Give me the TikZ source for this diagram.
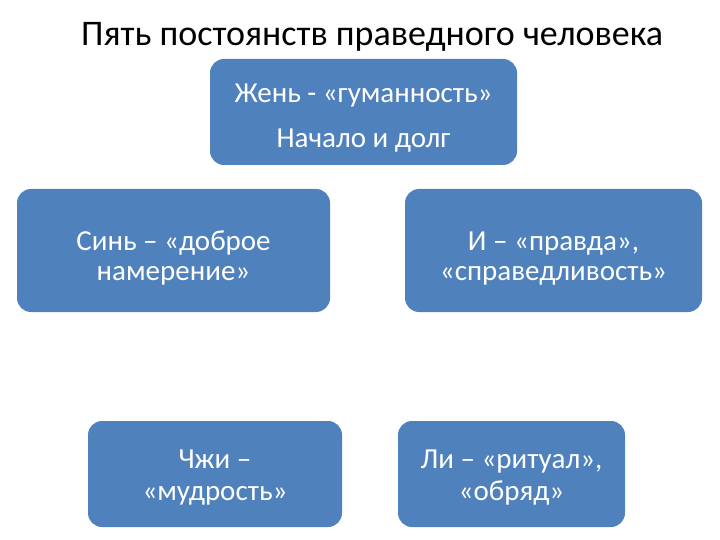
\documentclass[tikz,border=0pt]{standalone}
\usepackage{fontspec}
\setmainfont{Carlito}
\usepackage{tikz}
\definecolor{boxblue}{RGB}{79,129,189}
% first line raised by a strut, last line closed by a fixed depth
\newcommand{\twolines}[3]{\rule{0pt}{#1}#2\\#3\rule[-8pt]{0pt}{8pt}}

\begin{document}
\begin{tikzpicture}[
  x=1pt, y=-1pt,
  box/.style={rectangle, rounded corners=14pt, fill=boxblue, draw=none,
    text=white, align=center, inner sep=0pt},
  boxwide/.style={box, minimum width=307pt, minimum height=106pt,
    font=\fontsize{29}{45}\selectfont},
  boxmid/.style={box, minimum height=123pt, font=\fontsize{29}{30}\selectfont},
  boxlow/.style={box, minimum height=106pt, font=\fontsize{29}{32}\selectfont},
  heading/.style={anchor=base west, inner sep=0pt, font=\fontsize{36}{40}\selectfont},
]
\useasboundingbox (0,0) rectangle (720,540);

% --- Title ---
\node[heading] (title) at (81,46) {Пять постоянств праведного человека};

% --- Boxes ---
\node[boxwide] (zhen) at (363.5,112) {\twolines{35pt}{Жень - «гуманность»}{Начало и долг}};
\node[boxmid, minimum width=313pt] (sin) at (173.5,250.5) {\twolines{37pt}{Синь – «доброе}{намерение»}};
\node[boxmid, minimum width=297pt] (i) at (553.5,250.5) {\twolines{37pt}{И – «правда»,}{«справедливость»}};
\node[boxlow, minimum width=254pt] (zhi) at (215,474) {\twolines{28pt}{Чжи –}{«мудрость»}};
\node[boxlow, minimum width=227pt] (li) at (511.5,474) {\twolines{28pt}{Ли – «ритуал»,}{«обряд»}};
\end{tikzpicture}
\end{document}
